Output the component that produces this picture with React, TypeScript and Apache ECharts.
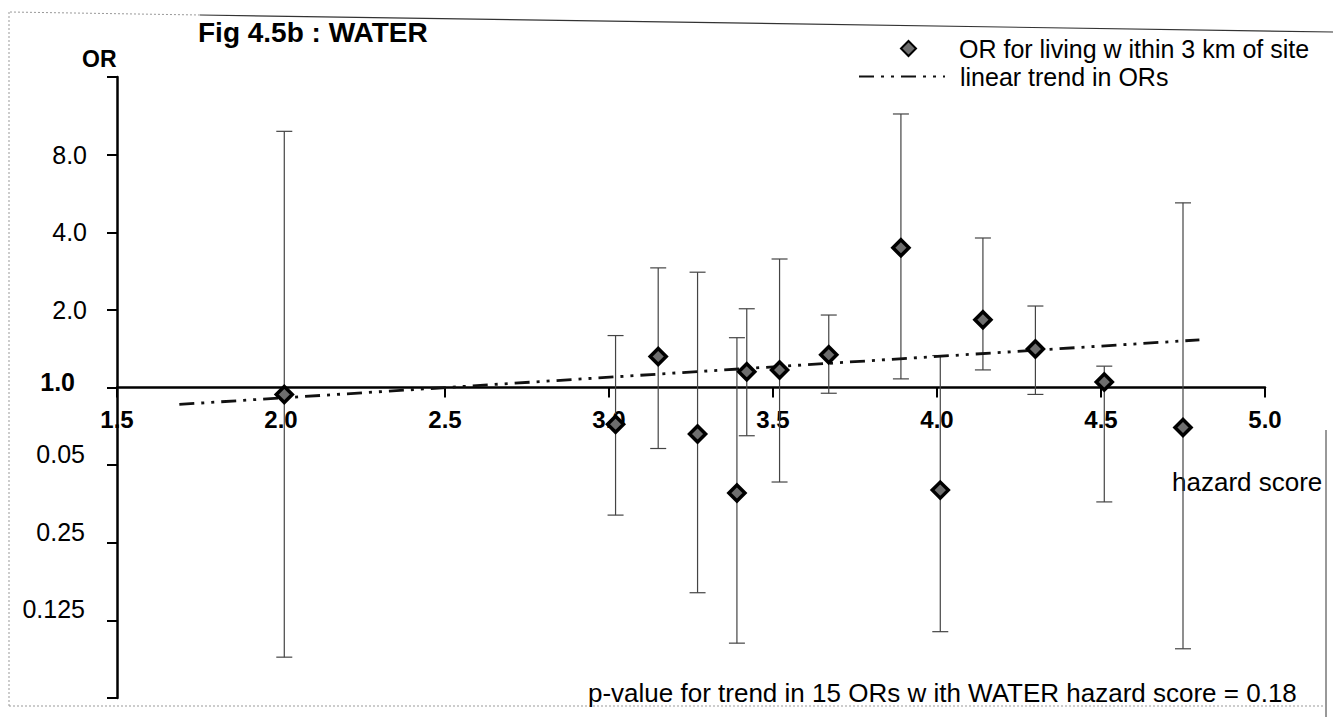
import React, { useEffect, useRef } from "react";
import * as echarts from "echarts";

// ---- data ----
const hazardScore = [2.01, 3.02, 3.15, 3.27, 3.39, 3.42, 3.52, 3.67, 3.89, 4.01, 4.14, 4.3, 4.51, 4.75];
const oddsRatio = [0.94, 0.72, 1.32, 0.66, 0.39, 1.15, 1.17, 1.34, 3.48, 0.4, 1.83, 1.41, 1.05, 0.7];
const ciLower = [0.09, 0.32, 0.58, 0.16, 0.102, 0.65, 0.43, 0.95, 1.08, 0.113, 1.17, 0.94, 0.36, 0.097];
const ciUpper = [9.85, 1.59, 2.91, 2.8, 1.56, 2.02, 3.15, 1.91, 11.5, 1.33, 3.8, 2.07, 1.21, 5.2];
const trendX = [1.69, 4.8];
const trendOR = [0.86, 1.53];
const yTickValues = [0.0625, 0.125, 0.25, 0.5, 1, 2, 4, 8, 16];
const yTickLabels = ["", "0.125", "0.25", "0.05", "1.0", "2.0", "4.0", "8.0", ""];

const titleText = "Fig 4.5b : WATER";
const yAxisTitle = "OR";
const xAxisTitle = "hazard score";
const orSeriesName = "OR for living w ithin 3 km of site";
const trendSeriesName = "linear trend in ORs";
const footnote = "p-value for trend in 15 ORs w ith WATER hazard score = 0.18";

const FONT = '"Liberation Sans", Arial, Helvetica, sans-serif';

export default function App() {
  const ref = useRef<HTMLDivElement>(null);

  useEffect(() => {
    if (!ref.current) return;
    const chart = echarts.init(ref.current, null, { renderer: "svg" });

    const yLabel = (v: number) => {
      const i = yTickValues.findIndex((t) => Math.abs(Math.log2(t) - Math.log2(v)) < 1e-6);
      if (i < 0) return "";
      const s = yTickLabels[i];
      if (!s) return "";
      if (yTickValues[i] === 1) return `{b|${s}}`;
      if (yTickValues[i] < 1) return `{lo|${s}}`;
      return `{hi|${s}}`;
    };

    const legendText = { fontSize: 25, color: "#000", fontFamily: FONT };

    const option: any = {
      animation: false,
      backgroundColor: "#ffffff",
      textStyle: { fontFamily: FONT },
      grid: { left: 117, right: 68, top: 77, bottom: 19, containLabel: false },
      xAxis: {
        type: "value",
        min: 1.5,
        max: 5.0,
        interval: 0.5,
        position: "bottom",
        offset: -310.5,
        axisLine: { show: true, onZero: false, lineStyle: { color: "#000", width: 2.5 } },
        axisTick: { show: true, length: 10, lineStyle: { color: "#000", width: 2 } },
        axisLabel: {
          margin: 20,
          fontSize: 24,
          fontWeight: "bold",
          color: "#000",
          fontFamily: FONT,
          formatter: (v: number) => v.toFixed(1),
        },
        splitLine: { show: false },
      },
      yAxis: {
        type: "log",
        logBase: 2,
        min: 0.0625,
        max: 16,
        splitNumber: 8,
        axisLine: { show: true, lineStyle: { color: "#000", width: 2.5 } },
        axisTick: { show: true, length: 10, lineStyle: { color: "#000", width: 2 } },
        axisLabel: {
          margin: 30,
          fontSize: 25,
          color: "#000",
          fontFamily: FONT,
          formatter: yLabel,
          rich: {
            b: { fontWeight: "bold", fontSize: 25, fontFamily: FONT, color: "#000", padding: [0, 12, 12, 0] },
            lo: { fontSize: 25, fontFamily: FONT, color: "#000", padding: [0, 2, 22, 0] },
            hi: { fontSize: 25, fontFamily: FONT, color: "#000" },
          },
        },
        splitLine: { show: false },
        minorTick: { show: false },
      },
      legend: [
        {
          data: [{ name: orSeriesName }],
          left: 900,
          top: 36,
          itemWidth: 15,
          itemHeight: 15,
          padding: 0,
          selectedMode: false,
          textStyle: { ...legendText, padding: [0, 0, 0, 38] },
        },
        {
          data: [
            {
              name: trendSeriesName,
              itemStyle: { color: "rgba(0,0,0,0)", borderWidth: 0 },
            },
          ],
          left: 858,
          top: 64,
          itemWidth: 86,
          itemHeight: 14,
          padding: 0,
          selectedMode: false,
          textStyle: { ...legendText, padding: [0, 0, 0, 10] },
        },
      ],
      series: [
        {
          type: "custom",
          name: "95% CI",
          silent: true,
          z: 1,
          data: hazardScore.map((x, i) => [x, ciLower[i], ciUpper[i]]),
          encode: { x: 0, y: [1, 2] },
          renderItem: (_params: any, api: any) => {
            const x = api.value(0);
            const lo = api.coord([x, api.value(1)]);
            const hi = api.coord([x, api.value(2)]);
            const w = 8;
            const style = { stroke: "#444", lineWidth: 1.2, fill: null };
            return {
              type: "group",
              children: [
                { type: "line", shape: { x1: lo[0], y1: lo[1], x2: hi[0], y2: hi[1] }, style },
                { type: "line", shape: { x1: lo[0] - w, y1: lo[1], x2: lo[0] + w, y2: lo[1] }, style },
                { type: "line", shape: { x1: hi[0] - w, y1: hi[1], x2: hi[0] + w, y2: hi[1] }, style },
              ],
            };
          },
        },
        {
          type: "line",
          name: trendSeriesName,
          z: 2,
          data: trendX.map((x, i) => [x, trendOR[i]]),
          symbol: "none",
          showSymbol: false,
          lineStyle: { color: "#111", width: 2.8, type: [15, 7, 3, 7, 3, 7] },
          itemStyle: { color: "#111" },
        },
        {
          type: "scatter",
          name: orSeriesName,
          z: 3,
          data: hazardScore.map((x, i) => [x, oddsRatio[i]]),
          symbol: "diamond",
          symbolSize: 16,
          itemStyle: { color: "#6e6e6e", borderColor: "#000", borderWidth: 3.5, opacity: 1 },
        },
      ],
      graphic: [
        // scanned frame
        { type: "line", silent: true, shape: { x1: 10, y1: 12, x2: 200, y2: 15 }, style: { stroke: "#999", lineWidth: 1, lineDash: [2, 2] } },
        { type: "line", silent: true, shape: { x1: 200, y1: 15, x2: 1333, y2: 32 }, style: { stroke: "#333", lineWidth: 1.2 } },
        { type: "line", silent: true, shape: { x1: 9, y1: 12, x2: 9, y2: 706 }, style: { stroke: "#999", lineWidth: 1, lineDash: [2, 2] } },
        { type: "line", silent: true, shape: { x1: 9, y1: 706, x2: 1325, y2: 706 }, style: { stroke: "#999", lineWidth: 1, lineDash: [2, 2] } },
        { type: "line", silent: true, shape: { x1: 1326, y1: 430, x2: 1326, y2: 717 }, style: { stroke: "#333", lineWidth: 1 } },
        {
          type: "text",
          left: 198,
          top: 18,
          style: { text: titleText, fontSize: 28, fontWeight: "bold", fontFamily: FONT, fill: "#000" },
        },
        {
          type: "text",
          left: 82,
          top: 47,
          style: { text: yAxisTitle, fontSize: 23, fontWeight: "bold", fontFamily: FONT, fill: "#000" },
        },
        {
          type: "text",
          left: 1172,
          top: 469,
          style: { text: xAxisTitle, fontSize: 26, fontFamily: FONT, fill: "#000" },
        },
        {
          type: "text",
          left: 588,
          top: 680,
          style: { text: footnote, fontSize: 26, fontFamily: FONT, fill: "#000" },
        },
      ],
    };

    chart.setOption(option);
    return () => chart.dispose();
  }, []);

  return (
    <div
      ref={ref}
      style={{ position: "absolute", left: 0, top: 0, width: 1333, height: 717, background: "#fff" }}
    />
  );
}
